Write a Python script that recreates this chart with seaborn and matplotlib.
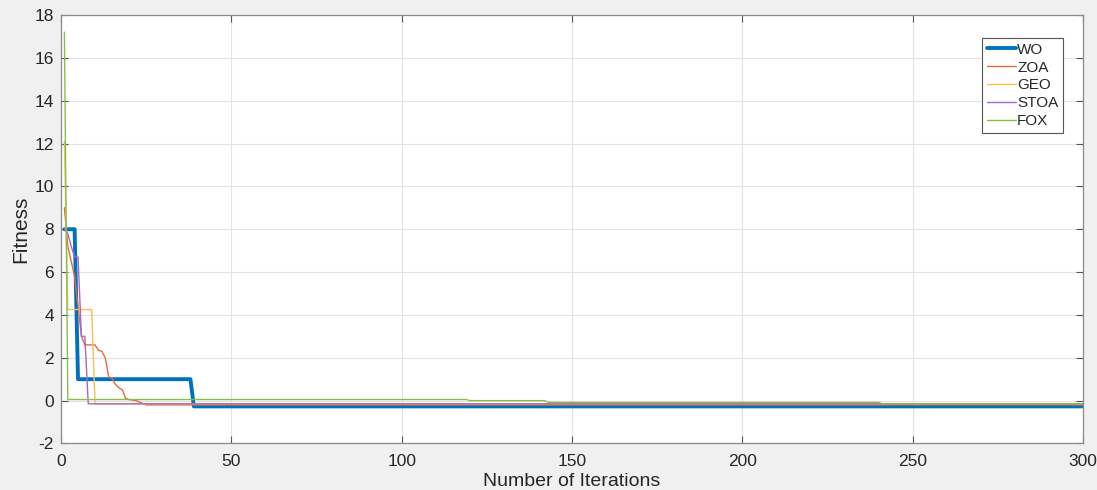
import numpy as np
import pandas as pd
import seaborn as sns
import matplotlib.pyplot as plt

# Convergence curves: best fitness at the iterations where each value changes
wo_iter = [1, 4, 5, 38, 39, 300]
wo_fit = [8.0, 8.0, 1.0, 1.0, -0.27, -0.27]

zoa_iter = [1, 2, 3, 4, 5, 6, 7, 10, 11, 12, 13, 14, 15, 16, 17, 18, 19, 20, 22, 25, 300]
zoa_fit = [9.0, 7.2, 6.5, 5.8, 4.4, 3.0, 2.6, 2.6, 2.35, 2.3, 2.0, 1.1, 1.05, 0.75, 0.6, 0.5, 0.1, 0.05, 0.0, -0.2, -0.2]

geo_iter = [1, 2, 9, 10, 300]
geo_fit = [12.1, 4.25, 4.25, -0.15, -0.15]

stoa_iter = [1, 2, 3, 4, 5, 6, 7, 8, 300]
stoa_fit = [8.05, 7.8, 7.2, 6.7, 6.7, 3.0, 3.0, -0.15, -0.15]

fox_iter = [1, 2, 119, 120, 142, 143, 240, 241, 300]
fox_fit = [17.2, 0.05, 0.05, 0.0, 0.0, -0.08, -0.08, -0.15, -0.15]

series = [
    ("WO", wo_iter, wo_fit, "#0072BD", 2.8),
    ("ZOA", zoa_iter, zoa_fit, "#E8683A", 1.0),
    ("GEO", geo_iter, geo_fit, "#F5C150", 1.0),
    ("STOA", stoa_iter, stoa_fit, "#A868C0", 1.0),
    ("FOX", fox_iter, fox_fit, "#86C047", 1.0),
]

sns.set_theme(style="white")
plt.rcParams["font.family"] = ["Liberation Sans", "DejaVu Sans"]
plt.rcParams["axes.unicode_minus"] = False

fig = plt.figure(figsize=(10.97, 4.90), dpi=100, facecolor="#f0f0f0")
ax = fig.add_axes([0.0556, 0.0950, 0.9316, 0.8744])
ax.set_facecolor("white")

for name, it, fit, color, lw in series:
    df = pd.DataFrame({"Iteration": it, "Fitness": fit})
    sns.lineplot(data=df, x="Iteration", y="Fitness", ax=ax, color=color,
                 linewidth=lw, label=name, sort=False, estimator=None)

ax.set_xlim(0, 300)
ax.set_ylim(-2, 18)
ax.set_xticks(np.arange(0, 301, 50))
ax.set_yticks(np.arange(-2, 19, 2))
ax.grid(True, color="#e3e3e3", linewidth=0.8)
ax.set_axisbelow(True)

for side in ["left", "right", "top", "bottom"]:
    ax.spines[side].set_visible(True)
    ax.spines[side].set_color("#8a8a8a")
    ax.spines[side].set_linewidth(0.9)

ax.tick_params(axis="both", which="both", direction="in", length=5, width=0.8,
               color="#555555", top=True, right=True, bottom=True, left=True,
               labelsize=12.5, labelcolor="#262626")
ax.tick_params(axis="x", pad=7.5)
ax.tick_params(axis="y", pad=5)

ax.set_xlabel("Number of Iterations", fontsize=14, color="#262626", labelpad=3)
ax.set_ylabel("Fitness", fontsize=15, color="#262626", labelpad=3)

leg = ax.legend(loc="upper right", bbox_to_anchor=(0.9804, 0.9464), fontsize=11,
                frameon=True, fancybox=False, framealpha=1, edgecolor="#555555",
                handlelength=1.9, handletextpad=0.1, borderpad=0.3,
                labelspacing=0.26, borderaxespad=0)
leg.get_frame().set_linewidth(0.8)

fig.savefig("out.png", dpi=100, facecolor=fig.get_facecolor())
